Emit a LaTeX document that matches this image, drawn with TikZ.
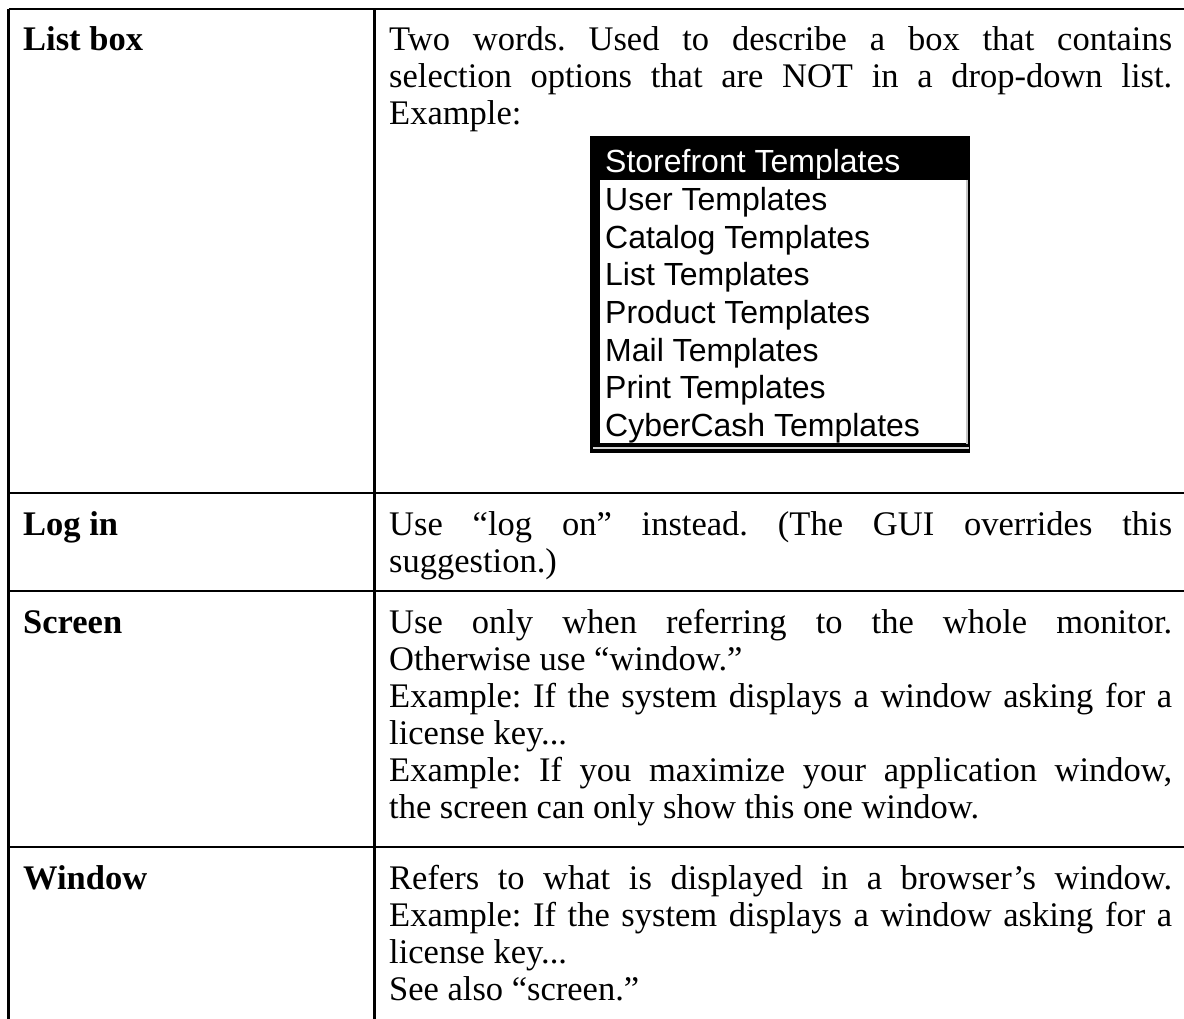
\documentclass[tikz,border=0pt]{standalone}
\usepackage{fontspec}
\setmainfont{Liberation Serif}
\newfontfamily\uisans{Liberation Sans}
\frenchspacing
\newcommand\bodyfont{\fontsize{34.5}{37}\selectfont}
\newcommand\itemfont{\uisans\fontsize{32}{37}\selectfont}
\newcommand\jl[1]{\makebox[783pt][s]{#1}}
\tikzset{
  body/.style={anchor=base west, inner sep=0pt, font=\bodyfont},
  head/.style={anchor=base west, inner sep=0pt, font=\bodyfont\bfseries},
  item/.style={anchor=base west, inner sep=0pt, font=\itemfont},
  rule/.style={line width=2.6pt, black}
}
\begin{document}
\frenchspacing
\begin{tikzpicture}[x=1pt,y=-1pt]
\useasboundingbox[fill=white] (0,0) rectangle (1184,1019);
% table rules
\coordinate (tl) at (8.5,9);
\coordinate (tr) at (1195,9);
\coordinate (bl) at (8.5,1030);
\coordinate (ct) at (374.5,9);
\coordinate (cb) at (374.5,1030);
\coordinate (h1l) at (8.5,493);
\coordinate (h1r) at (1195,493);
\coordinate (h2l) at (8.5,591);
\coordinate (h2r) at (1195,591);
\coordinate (h3l) at (8.5,847);
\coordinate (h3r) at (1195,847);
\draw[rule] (tl) -- (tr);
\draw[rule] (tl) -- (bl);
\draw[rule] (ct) -- (cb);
\draw[rule] (h1l) -- (h1r);
\draw[rule] (h2l) -- (h2r);
\draw[rule] (h3l) -- (h3r);

% left column headings
\node[head] (k1) at (23,51) {List box};
\node[head] (k2) at (23,535) {Log in};
\node[head] (k3) at (23,633) {Screen};
\node[head] (k4) at (23,889) {Window};

% row 1
\node[body] (a1) at (389,51) {\jl{Two words. Used to describe a box that contains}};
\node[body] (a2) at (389,88) {\jl{selection options that are NOT in a drop-down list.}};
\node[body] (a3) at (389,125) {Example:};

% list box screenshot
\fill[black] (590,136) rectangle (970,453);
\fill[white] (600,180) rectangle (967,443);
\draw[gray!45, line width=1.2pt] (967,180) -- (967,444);
\draw[gray!35, line width=2pt] (593,447.5) -- (969,447.5);
\node[item, text=white] (s0) at (605,173) {Storefront Templates};
\node[item] (s1) at (605,211) {User Templates};
\node[item] (s2) at (605,248.5) {Catalog Templates};
\node[item] (s3) at (605,286) {List Templates};
\node[item] (s4) at (605,323.5) {Product Templates};
\node[item] (s5) at (605,361) {Mail Templates};
\node[item] (s6) at (605,398.5) {Print Templates};
\node[item] (s7) at (605,436) {CyberCash Templates};

% row 2
\node[body] (b1) at (389,535) {\jl{Use “log on” instead. (The GUI overrides this}};
\node[body] (b2) at (389,572) {suggestion.)};

% row 3
\node[body] (c1) at (389,633) {\jl{Use only when referring to the whole monitor.}};
\node[body] (c2) at (389,670) {Otherwise use “window.”};
\node[body] (c3) at (389,707) {\jl{Example: If the system displays a window asking for a}};
\node[body] (c4) at (389,744) {license key...};
\node[body] (c5) at (389,781) {\jl{Example: If you maximize your application window,}};
\node[body] (c6) at (389,818) {the screen can only show this one window.};

% row 4
\node[body] (d1) at (389,889) {\jl{Refers to what is displayed in a browser’s window.}};
\node[body] (d2) at (389,926) {\jl{Example: If the system displays a window asking for a}};
\node[body] (d3) at (389,963) {license key...};
\node[body] (d4) at (389,1000) {See also “screen.”};
\end{tikzpicture}
\end{document}
